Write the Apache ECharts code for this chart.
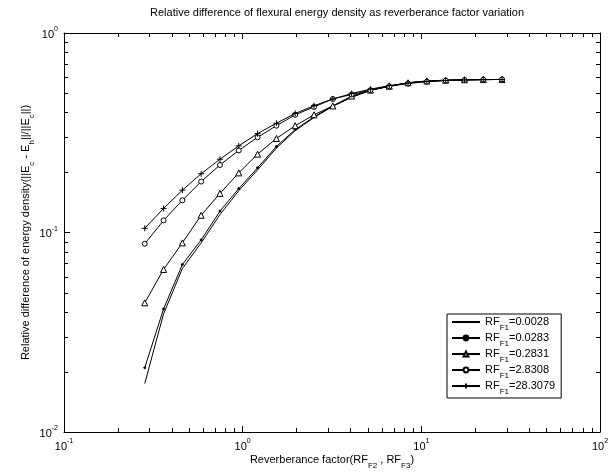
<!DOCTYPE html>
<html><head><meta charset="utf-8">
<script src="https://cdn.jsdelivr.net/npm/echarts@6/dist/echarts.min.js"></script>
<style>html,body{margin:0;padding:0;background:#fff}#c{width:616px;height:475px}</style>
</head><body><div id="c"></div>
<script>
const xValues = [0.2831, 0.3608, 0.4597, 0.5858, 0.7465, 0.9513, 1.212, 1.545, 1.968, 2.508,
  3.196, 4.073, 5.190, 6.614, 8.428, 10.74, 13.69, 17.44, 22.22, 28.31];
const rfValues = ['0.0028', '0.0283', '0.2831', '2.8308', '28.3079'];
const yRf0028 = [0.0175, 0.0391, 0.066, 0.0887, 0.123, 0.162, 0.206, 0.265, 0.324, 0.377,
  0.429, 0.476, 0.516, 0.541, 0.563, 0.574, 0.580, 0.583, 0.584, 0.585];
const yRf0283 = [0.021, 0.0414, 0.0691, 0.0918, 0.128, 0.166, 0.211, 0.270, 0.328, 0.380,
  0.431, 0.477, 0.517, 0.541, 0.563, 0.574, 0.580, 0.583, 0.584, 0.585];
const yRf2831 = [0.0444, 0.0653, 0.0887, 0.122, 0.157, 0.199, 0.247, 0.296, 0.343, 0.389,
  0.431, 0.483, 0.517, 0.541, 0.563, 0.575, 0.580, 0.583, 0.584, 0.585];
const yRf28308 = [0.0878, 0.115, 0.145, 0.180, 0.218, 0.258, 0.300, 0.343, 0.389, 0.426,
  0.467, 0.492, 0.517, 0.540, 0.558, 0.570, 0.577, 0.581, 0.584, 0.585];
const yRf283079 = [0.105, 0.132, 0.163, 0.197, 0.233, 0.272, 0.313, 0.353, 0.395, 0.432,
  0.467, 0.497, 0.523, 0.545, 0.561, 0.572, 0.578, 0.582, 0.584, 0.585];
const xMinorTicks = [0.2, 0.3, 0.4, 0.5, 0.6, 0.7, 0.8, 0.9, 2, 3, 4, 5, 6, 7, 8, 9,
  20, 30, 40, 50, 60, 70, 80, 90];
const yMinorTicks = [0.02, 0.03, 0.04, 0.05, 0.06, 0.07, 0.08, 0.09,
  0.2, 0.3, 0.4, 0.5, 0.6, 0.7, 0.8, 0.9];
const seriesY = [yRf0028, yRf0283, yRf2831, yRf28308, yRf283079];
const symbols = ['none', 'circle', 'triangle', 'circle', 'path://M0,5L10,5M5,0L5,10'];
const symbolSizes = [0, 2, 6, 5, 6];
const symbolFill = ['#000', '#000', '#fff', '#fff', '#000'];

const FONT = 'Liberation Sans';
const chart = echarts.init(document.getElementById('c'), null, {renderer: 'canvas'});
const pow10 = v => {
  const e = Math.round(Math.log10(v));
  return '{b|10}{e|' + e + '}';
};
const supRich = {
  b: {fontFamily: FONT, fontSize: 11, color: '#000', lineHeight: 14, verticalAlign: 'bottom'},
  e: {fontFamily: FONT, fontSize: 7, color: '#000', lineHeight: 8, verticalAlign: 'top'}
};
const subRich = {
  n: {fontFamily: FONT, fontSize: 11, color: '#000', lineHeight: 12, verticalAlign: 'top'},
  s: {fontFamily: FONT, fontSize: 8, color: '#000', lineHeight: 8, padding: [8, 0, 0, 0], verticalAlign: 'top'}
};
const axisCommon = {
  type: 'log', logBase: 10,
  axisLine: {show: true, lineStyle: {color: '#000', width: 1}},
  axisTick: {show: true, inside: true, length: 6, lineStyle: {color: '#000'}},
  splitLine: {show: false}
};
const series = seriesY.map((ys, i) => ({
  name: rfValues[i],
  type: 'line',
  data: xValues.map((x, j) => [x, ys[j]]),
  symbol: symbols[i],
  symbolSize: symbolSizes[i],
  showSymbol: symbols[i] !== 'none',
  lineStyle: {color: '#000', width: 1},
  itemStyle: {color: symbolFill[i], borderColor: '#000', borderWidth: 1},
  emphasis: {disabled: true},
  animation: false,
  z: 3 + i
}));

chart.setOption({
  animation: false,
  backgroundColor: '#fff',
  title: {
    text: 'Relative difference of flexural energy density as reverberance factor variation',
    left: 332, top: 2, textAlign: 'center',
    textStyle: {fontFamily: FONT, fontSize: 11, fontWeight: 'normal', color: '#000'}
  },
  grid: {left: 64, right: 16, top: 33, bottom: 37},
  legend: {
    orient: 'vertical', left: 447, top: 314,
    backgroundColor: '#fff', borderColor: '#000', borderWidth: 1,
    padding: [2, 6, 2, 4], itemGap: 0, itemWidth: 28, itemHeight: 6,
    data: rfValues.map((v, i) => i === 0 ? {name: v, itemStyle: {opacity: 0}} : {name: v}),
    formatter: name => '{n|RF}{s|F1}{n|=' + name + '}',
    textStyle: {fontFamily: FONT, fontSize: 11, color: '#000', rich: subRich}
  },
  xAxis: [
    Object.assign({}, axisCommon, {
      min: 0.1, max: 100, position: 'bottom',
      axisLabel: {formatter: pow10, rich: supRich, margin: 6},
      name: '{n|Reverberance factor(RF}{s|F2}{n| , RF}{s|F3}{n|)}',
      nameLocation: 'middle', nameGap: 22, nameMoveOverlap: false,
      nameTextStyle: {rich: subRich}
    }),
    Object.assign({}, axisCommon, {
      min: 0.1, max: 100, position: 'top', axisLabel: {show: false}
    })
  ],
  yAxis: [
    Object.assign({}, axisCommon, {
      min: 0.01, max: 1, position: 'left',
      axisLabel: {formatter: pow10, rich: supRich, margin: 6},
      name: '{n|Relative difference of energy density(||E}{s|c}{n| - E}{s|h}{n|||/||E}{s|c}{n|||)}',
      nameLocation: 'middle', nameGap: 32, nameRotate: 90, nameMoveOverlap: false,
      nameTextStyle: {rich: subRich}
    }),
    Object.assign({}, axisCommon, {
      min: 0.01, max: 1, position: 'right', axisLabel: {show: false}
    })
  ],
  series: series
});

// minor ticks placed through the chart's own log scales
const toPx = p => chart.convertToPixel({xAxisIndex: 0, yAxisIndex: 0}, p);
const tickLines = [];
const ls = {stroke: '#000', lineWidth: 1};
xMinorTicks.forEach(v => {
  const b = toPx([v, 0.01]);
  const t = toPx([v, 1]);
  const x = Math.round(b[0]) + 0.5;
  tickLines.push({type: 'line', silent: true, shape: {x1: x, y1: b[1], x2: x, y2: b[1] - 4}, style: ls});
  tickLines.push({type: 'line', silent: true, shape: {x1: x, y1: t[1], x2: x, y2: t[1] + 4}, style: ls});
});
yMinorTicks.forEach(v => {
  const l = toPx([0.1, v]);
  const r = toPx([100, v]);
  const y = Math.round(l[1]) + 0.5;
  tickLines.push({type: 'line', silent: true, shape: {x1: l[0], y1: y, x2: l[0] + 4, y2: y}, style: ls});
  tickLines.push({type: 'line', silent: true, shape: {x1: r[0], y1: y, x2: r[0] - 4, y2: y}, style: ls});
});
chart.setOption({graphic: {elements: tickLines}});
</script>
</body></html>
